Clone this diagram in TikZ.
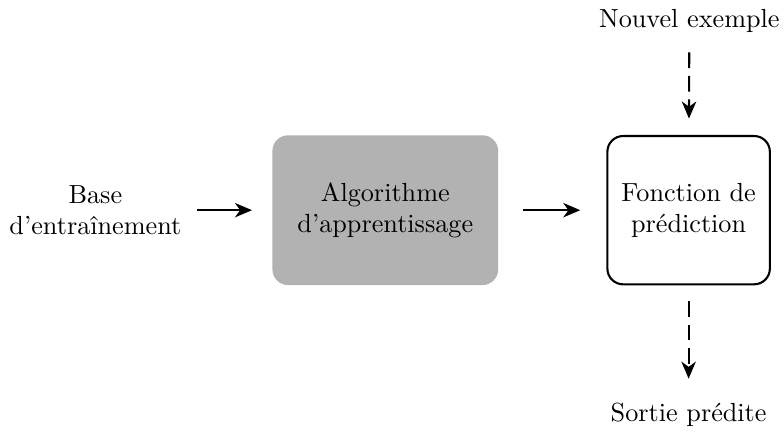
\documentclass[tikz,border=0pt]{standalone}
\usepackage{tikz}
\usetikzlibrary{positioning, arrows.meta}
\usepackage{xcolor}

\begin{document}
\begin{tikzpicture}[>={Stealth[length=6.5pt, width=5.5pt, inset=2pt]}, thick,
  boite/.style={rounded corners=6pt, minimum width=3.03cm, minimum height=2.01cm, align=center},
  tirets/.style={dash pattern=on 6pt off 3pt}]
  \useasboundingbox (0,0) rectangle (10.52,-5.85);
  % chaine principale
  \node[align=center] (base) at (1.28,-2.82) {Base\\d'entraînement};
  \node[boite, fill=gray!60] (algo) at (5.17,-2.82) {Algorithme\\d'apprentissage};
  \node[boite, draw, minimum width=2.18cm, minimum height=1.99cm] (pred) at (9.24,-2.82) {Fonction de\\prédiction};
  % entree et sortie
  \node (nouv) at (9.25,-0.275) {Nouvel exemple};
  \node (sortie) at (9.24,-5.57) {Sortie prédite};
  \draw[->, shorten <=0.08cm, shorten >=0.26cm] (base) -- (algo);
  \draw[->, shorten <=0.32cm, shorten >=0.35cm] (algo) -- (pred);
  \draw[->, tirets, shorten <=0.14cm, shorten >=0.22cm] (nouv) -- (pred);
  \draw[->, tirets, shorten <=0.21cm, shorten >=0.2cm] (pred) -- (sortie);
\end{tikzpicture}
\end{document}
